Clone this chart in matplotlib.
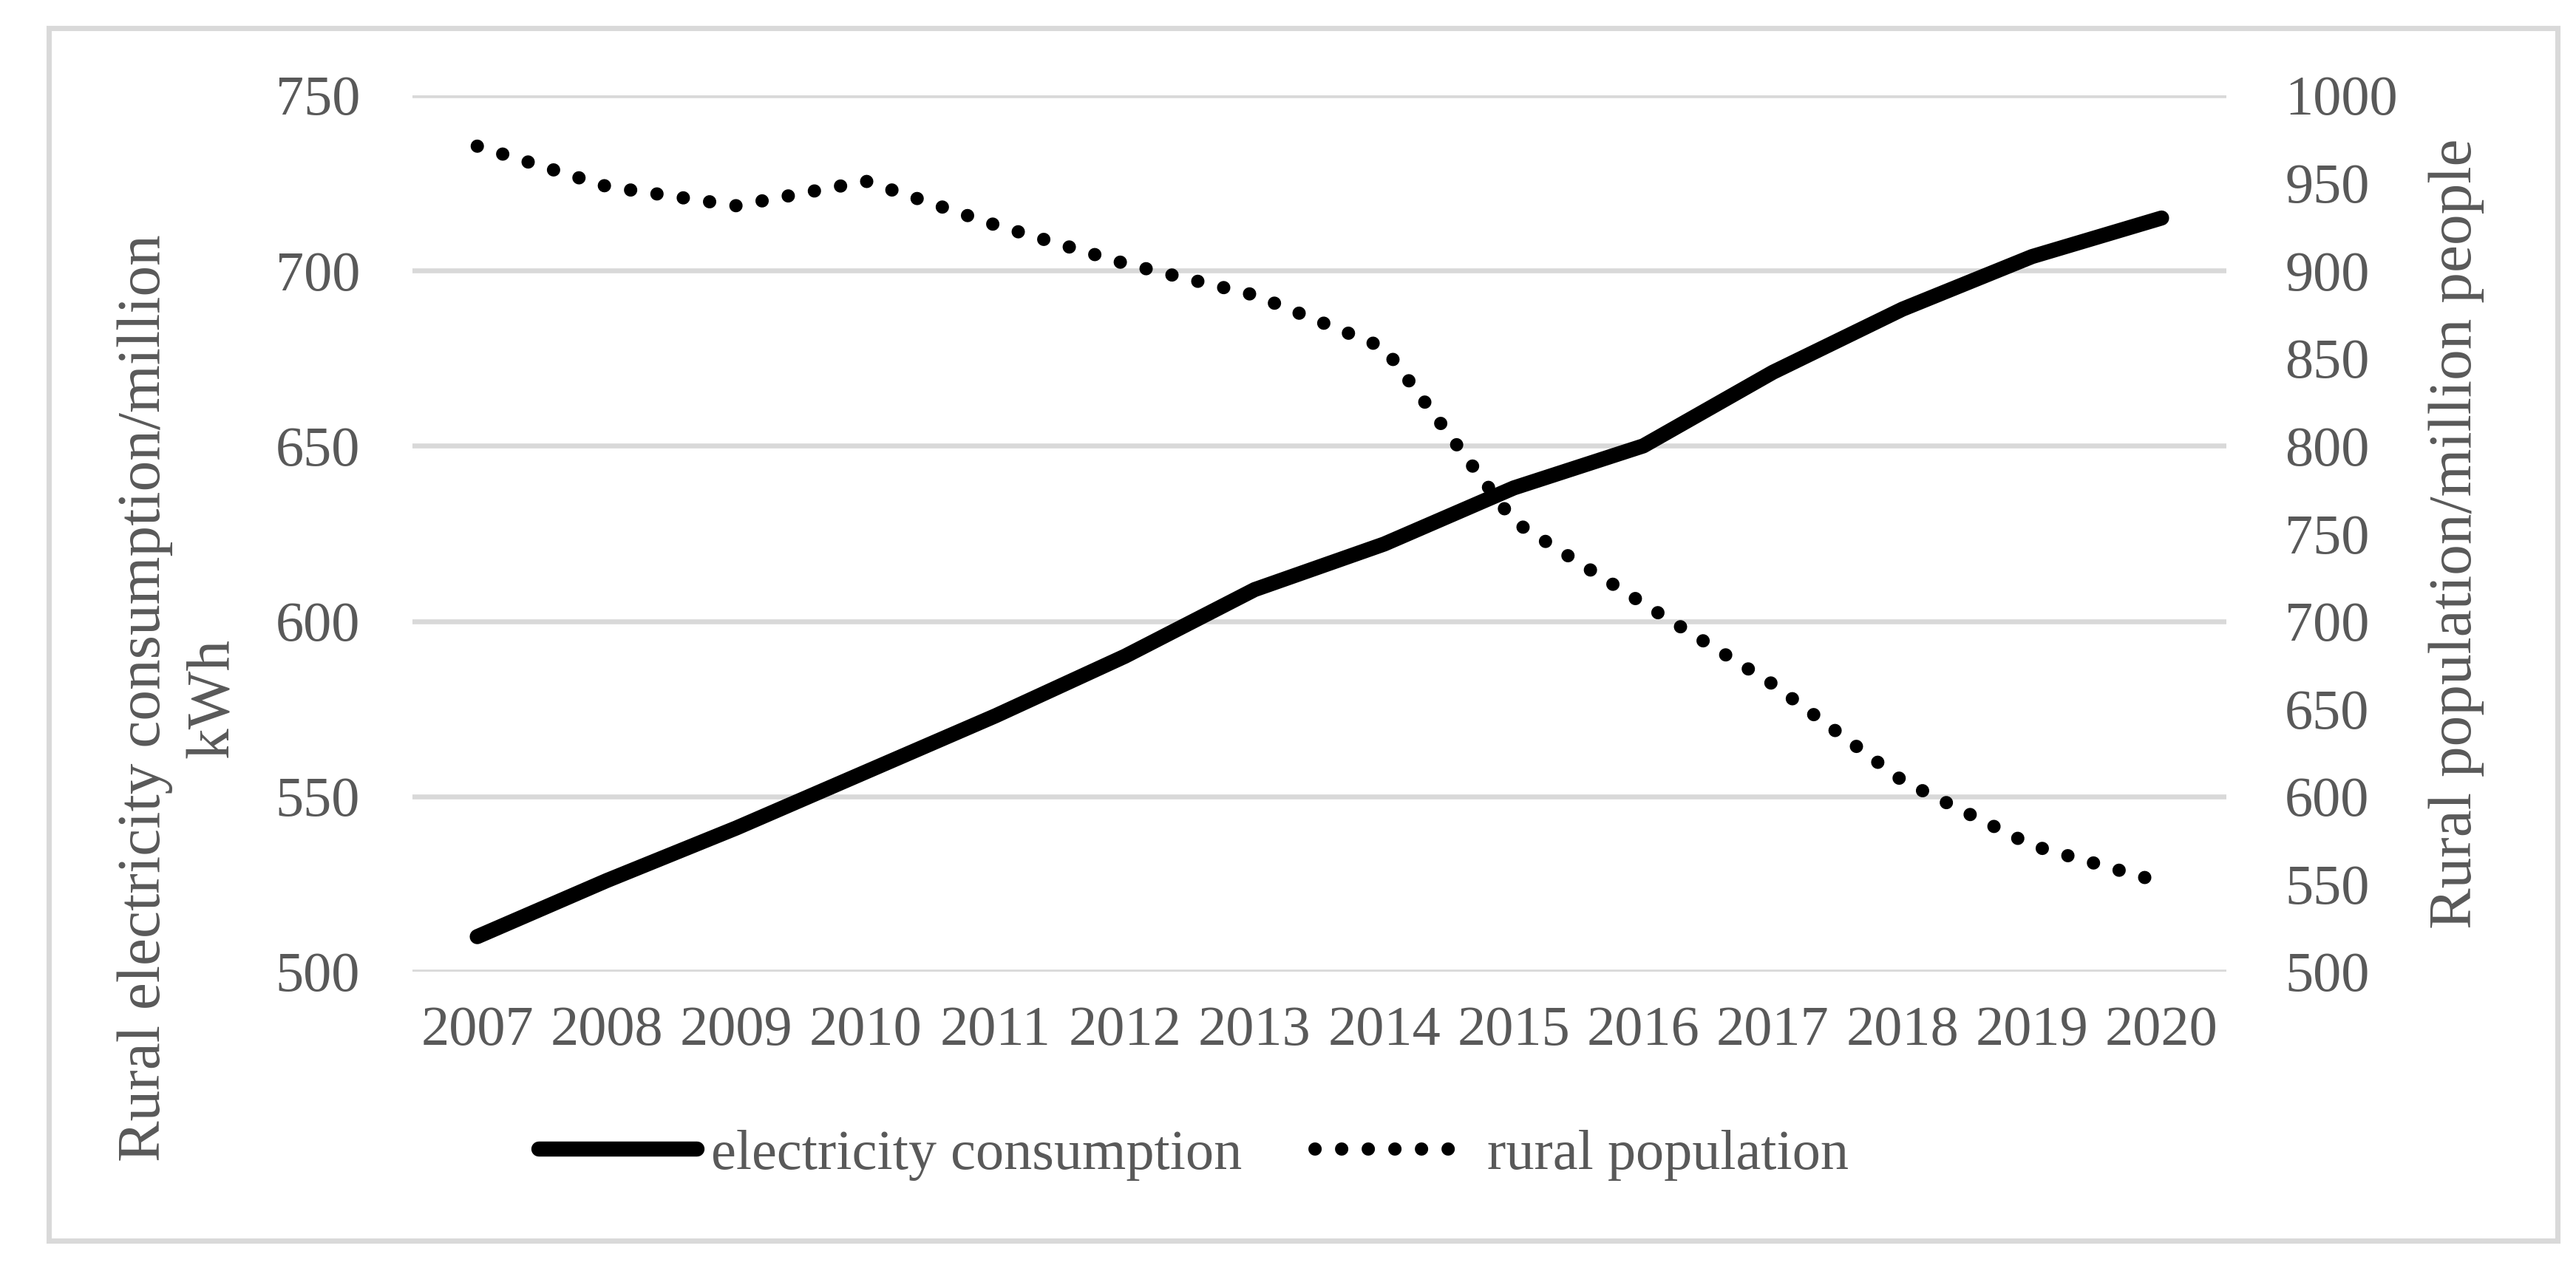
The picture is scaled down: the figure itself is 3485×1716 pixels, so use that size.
import matplotlib
matplotlib.use("Agg")
import matplotlib.pyplot as plt
from matplotlib.lines import Line2D
from matplotlib.patches import Rectangle

# data
years = ["2007", "2008", "2009", "2010", "2011", "2012", "2013",
         "2014", "2015", "2016", "2017", "2018", "2019", "2020"]
electricity = [510, 526, 541, 557, 573, 590, 609, 622, 638, 650, 671, 689, 704, 715]
population = [971, 948, 937, 951, 926, 904, 886, 856, 757, 710, 664, 609, 572, 551]

left_ticks = [500, 550, 600, 650, 700, 750]
right_ticks = [500, 550, 600, 650, 700, 750, 800, 850, 900, 950, 1000]

grey_text = "#595959"
grey_line = "#D9D9D9"
fs = 18.3
fs_title = 20

plt.rcParams['font.family'] = ['Liberation Serif', 'DejaVu Serif']

fig = plt.figure(figsize=(3486 / 300, 1716 / 300), dpi=300)

# outer chart border
fig.patches.append(Rectangle((66 / 3486, 1 - 1679 / 1716), (3460 - 66) / 3486, (1679 - 38) / 1716,
                             transform=fig.transFigure, fill=False, edgecolor=grey_line, linewidth=1.7))

ax = fig.add_axes([558 / 3486, 1 - 1315 / 1716, (3012 - 558) / 3486, (1315 - 129) / 1716])
ax2 = ax.twinx()

x = list(range(len(years)))
ax.plot(x, electricity, color="black", linewidth=4.9, solid_capstyle="round", zorder=3)
ax2.plot(x, population, color="black", linewidth=4.3, linestyle=(0, (0.01, 2.0)),
         dash_capstyle="round", zorder=3)

ax.set_xlim(-0.5, len(years) - 0.5)
ax.set_ylim(500, 750)
ax2.set_ylim(500, 1000)
ax.set_yticks(left_ticks)
ax2.set_yticks(right_ticks)
ax.set_xticks(x)
ax.set_xticklabels(years)

ax.grid(axis="y", color=grey_line, linewidth=1.6)
ax.set_axisbelow(True)
for a in (ax, ax2):
    for s in a.spines.values():
        s.set_visible(False)
ax.tick_params(axis="x", length=0, pad=11, labelsize=fs, labelcolor=grey_text)
ax.tick_params(axis="y", length=0, pad=17, labelsize=fs, labelcolor=grey_text)
ax2.tick_params(axis="y", length=0, pad=19, labelsize=fs, labelcolor=grey_text)

# axis titles
fig.text(196 / 3486, 1 - 945 / 1716, "Rural electricity consumption/million", rotation=90,
         ha="center", va="center", fontsize=fs_title, color=grey_text)
fig.text(289 / 3486, 1 - 945 / 1716, "kWh", rotation=90,
         ha="center", va="center", fontsize=fs_title, color=grey_text)
fig.text(3323 / 3486, 1 - 722 / 1716, "Rural population/million people", rotation=90,
         ha="center", va="center", fontsize=fs_title, color=grey_text)

handles = [Line2D([], [], color="black", linewidth=4.9, solid_capstyle="round"),
           Line2D([], [], color="black", linewidth=4.3, linestyle=(0, (0.01, 2.0)),
                  dash_capstyle="round")]
leg = fig.legend(handles, ["electricity consumption", "rural population"], loc="center",
                 bbox_to_anchor=(1615 / 3486, 1 - 1563 / 1716), ncol=2, frameon=False,
                 fontsize=fs, handlelength=2.8, handletextpad=0.25, columnspacing=1.3)
for t in leg.get_texts():
    t.set_color(grey_text)

fig.savefig("out.png", dpi=300)
